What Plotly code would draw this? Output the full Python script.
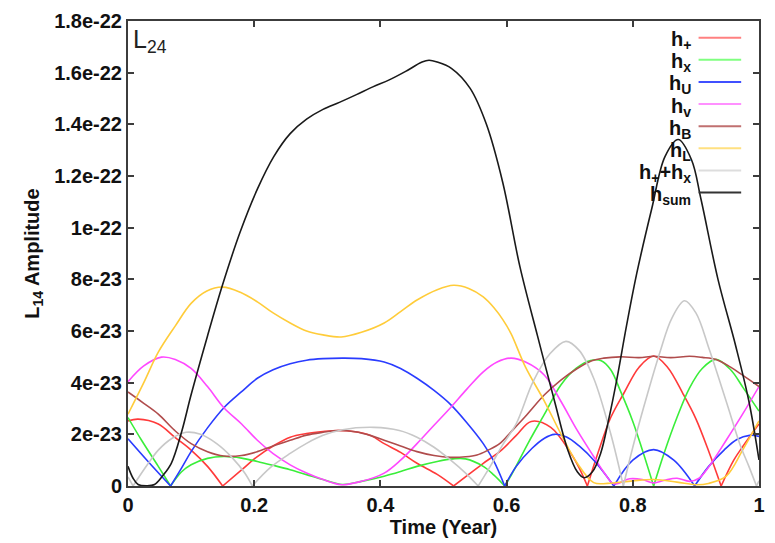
import plotly.graph_objects as go

# ---- data (amplitudes in units of 1e-23) ----
t_plus = [0, 0.016, 0.048, 0.074, 0.1, 0.126, 0.15, 0.18, 0.205, 0.23, 0.257, 0.283, 0.309, 0.333, 0.36, 0.385,
          0.406, 0.432, 0.458, 0.49, 0.516, 0.54, 0.563, 0.59, 0.615, 0.639, 0.67, 0.702, 0.715, 0.728, 0.745,
          0.765, 0.786, 0.81, 0.833, 0.855, 0.88, 0.9, 0.921, 0.94, 0.96, 0.974, 1.0]
v_plus = [2.52, 2.59, 2.4, 1.89, 1.39, 0.76, 0, 0.62, 1.14, 1.55, 1.89, 2.03, 2.11, 2.15, 2.1, 1.95,
          1.64, 1.3, 0.88, 0.45, 0, 0.45, 0.88, 1.35, 1.95, 2.5, 2.27, 1.26, 0.7, 0, 1.3,
          2.65, 3.6, 4.6, 5.03, 4.6, 3.55, 2.6, 1.3, 0, 1.0, 1.52, 2.4]

t_cross = [0, 0.0215, 0.048, 0.0675, 0.085, 0.1, 0.126, 0.152, 0.18, 0.205, 0.23, 0.257, 0.283, 0.309, 0.34,
           0.37, 0.406, 0.432, 0.458, 0.49, 0.515, 0.535, 0.563, 0.58, 0.597, 0.607, 0.635, 0.66, 0.686, 0.71,
           0.733, 0.75, 0.765, 0.78, 0.8, 0.815, 0.833, 0.85, 0.87, 0.89, 0.91, 0.932, 0.955, 0.975, 1.0]
v_cross = [2.65, 1.77, 0.76, 0, 0.55, 0.82, 1.07, 1.14, 1.08, 0.95, 0.8, 0.63, 0.44, 0.25, 0.06,
           0.18, 0.38, 0.56, 0.76, 0.95, 1.05, 1.05, 0.76, 0.42, 0, 0.4, 1.7, 2.78, 3.91, 4.55,
           4.86, 4.85, 4.5, 3.7, 2.5, 1.4, 0, 1.3, 2.65, 3.8, 4.55, 4.9, 4.5, 3.8, 2.9]

t_U = [0, 0.03, 0.0675, 0.085, 0.1, 0.126, 0.152, 0.18, 0.205, 0.23, 0.257, 0.283, 0.309, 0.34, 0.37, 0.406,
       0.432, 0.458, 0.485, 0.511, 0.537, 0.563, 0.58, 0.597, 0.615, 0.64, 0.66, 0.676, 0.695, 0.715, 0.74,
       0.77, 0.8, 0.833, 0.865, 0.898, 0.92, 0.945, 0.965, 0.985, 1.0]
v_U = [1.83, 1.0, 0, 0.7, 1.33, 2.25, 3.03, 3.65, 4.17, 4.5, 4.73, 4.87, 4.93, 4.95, 4.93, 4.8,
       4.55, 4.17, 3.7, 3.16, 2.45, 1.64, 0.95, 0, 0.75, 1.45, 1.85, 2.0, 1.9, 1.55, 0.95,
       0, 1.0, 1.41, 1.0, 0, 0.75, 1.4, 1.8, 1.96, 1.92]

t_v = [0, 0.025, 0.053, 0.075, 0.1, 0.126, 0.152, 0.18, 0.205, 0.23, 0.257, 0.283, 0.309, 0.338, 0.37, 0.406,
       0.432, 0.458, 0.485, 0.511, 0.537, 0.563, 0.585, 0.607, 0.63, 0.66, 0.686, 0.712, 0.738, 0.755, 0.77,
       0.795, 0.815, 0.833, 0.85, 0.87, 0.89, 0.905, 0.921, 0.948, 0.974, 1.0]
v_v = [4.04, 4.65, 4.99, 4.9, 4.55, 3.85, 3.03, 2.4, 1.77, 1.25, 0.82, 0.5, 0.25, 0.05, 0.18, 0.5,
       1.0, 1.64, 2.35, 3.03, 3.75, 4.42, 4.8, 4.95, 4.8, 4.29, 3.28, 2.15, 1.14, 0.5, 0.08,
       0.28, 0.25, 0.12, 0.22, 0.3, 0.18, 0.3, 0.76, 1.77, 2.78, 3.85]

t_B = [0, 0.025, 0.048, 0.074, 0.1, 0.126, 0.152, 0.18, 0.205, 0.23, 0.257, 0.283, 0.309, 0.333, 0.36, 0.385,
       0.406, 0.432, 0.458, 0.485, 0.511, 0.535, 0.553, 0.57, 0.589, 0.607, 0.63, 0.66, 0.686, 0.712, 0.735,
       0.754, 0.78, 0.81, 0.833, 0.86, 0.89, 0.91, 0.932, 0.955, 0.974, 1.0]
v_B = [3.64, 3.2, 2.78, 2.15, 1.64, 1.33, 1.16, 1.18, 1.33, 1.55, 1.77, 1.97, 2.08, 2.15, 2.1, 1.95,
       1.77, 1.55, 1.33, 1.18, 1.11, 1.13, 1.2, 1.38, 1.64, 2.1, 2.7, 3.53, 4.1, 4.55, 4.85,
       4.95, 5.0, 4.97, 5.02, 4.97, 5.02, 4.98, 4.9, 4.6, 4.29, 3.85]

t_L = [0, 0.025, 0.048, 0.075, 0.1, 0.125, 0.15, 0.178, 0.205, 0.23, 0.257, 0.283, 0.309, 0.338, 0.37, 0.406,
       0.432, 0.458, 0.49, 0.516, 0.54, 0.563, 0.58, 0.594, 0.607, 0.63, 0.66, 0.686, 0.712, 0.738, 0.76,
       0.8, 0.833, 0.87, 0.9, 0.92, 0.948, 0.974, 1.0]
v_L = [2.78, 4.0, 5.18, 6.2, 7.07, 7.55, 7.7, 7.5, 7.13, 6.7, 6.31, 6.0, 5.85, 5.77, 5.95, 6.31,
       6.75, 7.2, 7.6, 7.77, 7.65, 7.32, 6.9, 6.44, 5.9, 4.6, 3.28, 2.02, 0.88, 0.13, 0.1,
       0.2, 0.25, 0.15, 0.05, 0.1, 0.38, 1.39, 2.52]

t_pc = [0, 0.008, 0.03, 0.048, 0.07, 0.092, 0.115, 0.14, 0.165, 0.185, 0.197, 0.225, 0.257, 0.283, 0.309,
        0.34, 0.39, 0.43, 0.458, 0.485, 0.511, 0.535, 0.555, 0.575, 0.594, 0.615, 0.642, 0.668, 0.694, 0.715,
        0.738, 0.765, 0.785, 0.8, 0.817, 0.843, 0.862, 0.882, 0.9, 0.921, 0.948, 0.97, 0.984, 0.996, 1.0]
v_pc = [0.35, 0, 0.8, 1.39, 1.85, 2.08, 2.0, 1.65, 1.1, 0.5, 0, 0.7, 1.26, 1.65, 1.96,
        2.18, 2.27, 2.15, 1.89, 1.5, 1.01, 0.5, 0, 0.8, 1.6, 2.4, 4.04, 5.1, 5.6, 5.25,
        4.17, 2.02, 0, 1.5, 3.03, 5.18, 6.5, 7.17, 6.7, 5.3, 3.28, 1.6, 0.76, 0, 0.2]

t_sum = [0, 0.008, 0.016, 0.03, 0.042, 0.055, 0.0686, 0.085, 0.1, 0.126, 0.15, 0.178, 0.205, 0.231, 0.257,
         0.283, 0.309, 0.335, 0.362, 0.388, 0.414, 0.44, 0.466, 0.477, 0.49, 0.513, 0.542, 0.568, 0.594, 0.621,
         0.649, 0.676, 0.697, 0.712, 0.723, 0.736, 0.749, 0.762, 0.775, 0.79, 0.806, 0.83, 0.851, 0.872, 0.893,
         0.908, 0.935, 0.963, 0.984, 1.0]
v_sum = [0.76, 0.3, 0.06, 0.01, 0.06, 0.4, 0.88, 2.1, 3.53, 5.81, 7.8, 9.85, 11.49, 12.75, 13.64,
         14.2, 14.58, 14.85, 15.15, 15.45, 15.72, 16.05, 16.41, 16.48, 16.41, 16.16, 15.4, 14.0, 11.74, 8.5,
         5.81, 3.28, 1.39, 0.55, 0.32, 0.55, 1.26, 2.6, 4.17, 6.2, 8.2, 10.73, 12.75, 13.41, 12.63,
         11.11, 8.0, 5.43, 3.28, 1.01]

series_names = ["h<sub>+</sub>", "h<sub>x</sub>", "h<sub>U</sub>", "h<sub>v</sub>", "h<sub>B</sub>",
                "h<sub>L</sub>", "h<sub>+</sub>+h<sub>x</sub>", "h<sub>sum</sub>"]
series_t = [t_plus, t_cross, t_U, t_v, t_B, t_L, t_pc, t_sum]
series_v = [v_plus, v_cross, v_U, v_v, v_B, v_L, v_pc, v_sum]
colors = ["#ff3a3a", "#3aee3a", "#2a3cff", "#ff48ff", "#b04c4c", "#ffcc3a", "#c8c8c8", "#1a1a1a"]
key_colors = ["#ff8080", "#80ff80", "#4050ff", "#ff90ff", "#c07070", "#ffe080", "#dddddd", "#333333"]

x_tickvals = [0, 0.2, 0.4, 0.6, 0.8, 1.0]
x_ticktext = ["0", "0.2", "0.4", "0.6", "0.8", "1"]
y_tickvals = [0, 2e-23, 4e-23, 6e-23, 8e-23, 1e-22, 1.2e-22, 1.4e-22, 1.6e-22, 1.8e-22]
y_ticktext = ["0", "2e-23", "4e-23", "6e-23", "8e-23", "1e-22", "1.2e-22", "1.4e-22", "1.6e-22", "1.8e-22"]

SCALE = 1e-23


def build(t, v):
    xs, ys = [], []
    n = len(t)
    for i, (a, b) in enumerate(zip(t, v)):
        xs.append(a)
        ys.append(b * SCALE)
        if b == 0 and 0 < i < n - 1:  # cusp: restart the smoothed segment
            xs += [None, a]
            ys += [None, 0.0]
    return xs, ys


fig = go.Figure()
for name, t, v, c in zip(series_names, series_t, series_v, colors):
    xs, ys = build(t, v)
    fig.add_trace(go.Scatter(x=xs, y=ys, mode="lines", name=name, connectgaps=False,
                             line=dict(color=c, width=1.6, shape="spline", smoothing=1.0),
                             showlegend=False))

FONT = "Liberation Sans, Arial, Helvetica, sans-serif"

# manual key (gnuplot style: text then line sample)
key_top = 32
key_step = 22.6
plot_top, plot_bottom, plot_left, plot_w = 15, 490, 128, 637
for i, (name, kc) in enumerate(zip(series_names, key_colors)):
    ypix = key_top + key_step * i
    yp = (plot_bottom - ypix) / (plot_bottom - plot_top)
    fig.add_annotation(x=(698 - plot_left) / plot_w, y=yp, xref="paper", yref="paper",
                       text="<b>" + name + "</b>", showarrow=False, xanchor="right", yanchor="middle",
                       yshift=-3, font=dict(family=FONT, size=20, color="#111"))
    fig.add_shape(type="line", xref="paper", yref="paper",
                  x0=(704 - plot_left) / plot_w, x1=(747 - plot_left) / plot_w, y0=yp, y1=yp,
                  line=dict(color=kc, width=2))

fig.add_annotation(x=0.005, y=0.995, xref="paper", yref="paper", text="L<sub>24</sub>", showarrow=False,
                   xanchor="left", yanchor="top", font=dict(family=FONT, size=25, color="#222"))

axis_common = dict(showline=True, linewidth=2, linecolor="#3c3c3c", mirror="ticks", ticks="inside",
                   ticklen=6, tickwidth=1.5, tickcolor="#3c3c3c", showgrid=False, zeroline=False,
                   tickfont=dict(family=FONT, size=20, color="#111", weight="bold"))

fig.update_layout(
    width=775, height=543,
    margin=dict(l=128, r=10, t=15, b=53),
    paper_bgcolor="white", plot_bgcolor="white",
    xaxis=dict(range=[0, 1], tickvals=x_tickvals, ticktext=x_ticktext,
               title=dict(text="<b>Time (Year)</b>", standoff=3,
                          font=dict(family=FONT, size=20, color="#111")),
               **axis_common),
    yaxis=dict(range=[0, 1.8e-22], tickvals=y_tickvals, ticktext=y_ticktext,
               title=dict(text="<b>L<sub>14</sub> Amplitude</b>", standoff=9,
                          font=dict(family=FONT, size=20, color="#111")),
               **axis_common),
)

fig.write_html("out.html")
